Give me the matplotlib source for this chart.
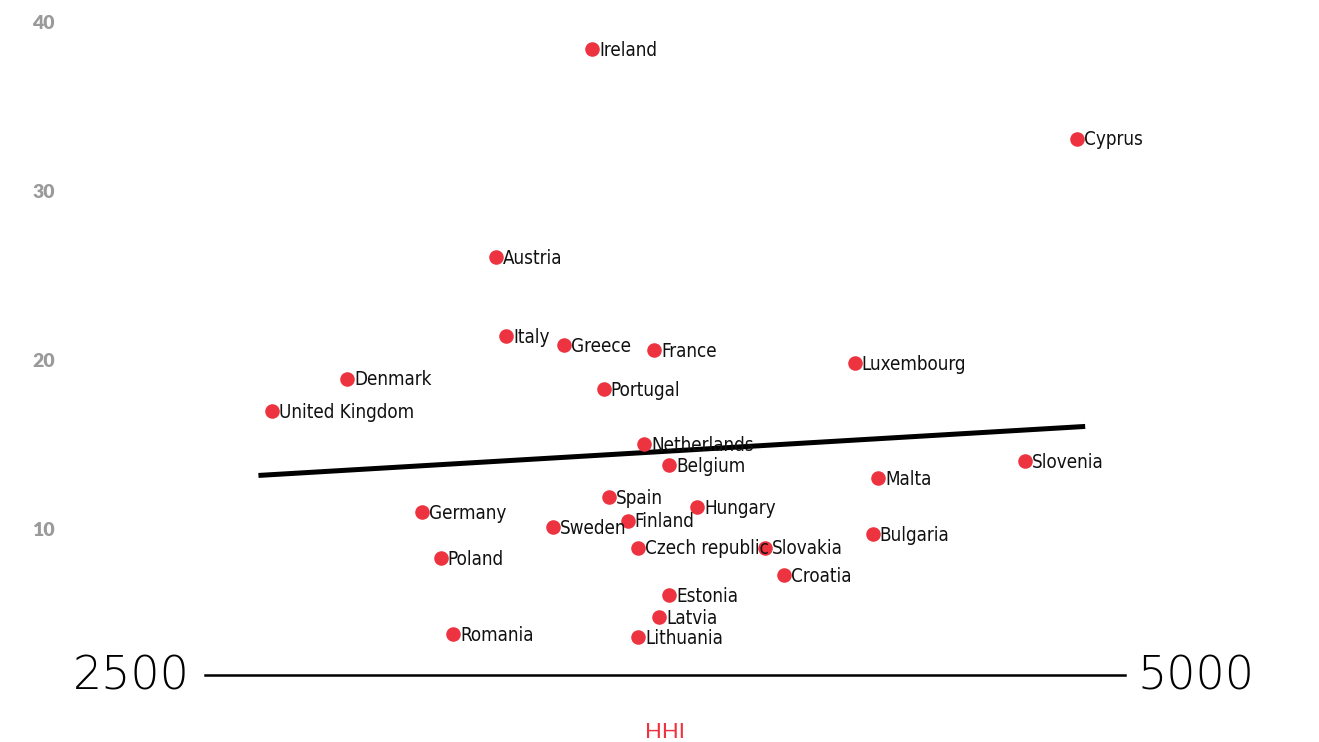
import numpy as np
import matplotlib
matplotlib.use("Agg")
import matplotlib.pyplot as plt

countries = ["United Kingdom", "Denmark", "Germany", "Poland", "Romania", "Austria",
             "Italy", "Sweden", "Greece", "Ireland", "Portugal", "Spain", "Finland",
             "Czech republic", "Lithuania", "Netherlands", "France", "Latvia", "Belgium",
             "Estonia", "Hungary", "Slovakia", "Croatia", "Luxembourg", "Bulgaria",
             "Malta", "Slovenia", "Cyprus"]
hhi = [2682, 2886, 3090, 3141, 3174, 3291,
       3318, 3446, 3476, 3552, 3584, 3598, 3649,
       3677, 3677, 3693, 3720, 3734, 3761,
       3761, 3837, 4022, 4073, 4266, 4315,
       4329, 4728, 4870]
values = [17.0, 18.9, 11.0, 8.3, 3.8, 26.1,
          21.4, 10.1, 20.9, 38.4, 18.3, 11.9, 10.5,
          8.9, 3.6, 15.0, 20.6, 4.8, 13.8,
          6.1, 11.3, 8.9, 7.3, 19.8, 9.7,
          13.0, 14.0, 33.1]
yticks = [10, 20, 30, 40]

fig = plt.figure(figsize=(13.19, 7.42), dpi=100)
ax = fig.add_axes([205 / 1319, 67 / 742, 920 / 1319, 675 / 742])
ax.set_xlim(2500, 5000)
ax.set_ylim(1.36, 41.3)

red = "#ee3340"
ax.scatter(hhi, values, s=110, color=red, zorder=3, linewidths=0)
for name, x, y in zip(countries, hhi, values):
    ax.annotate(name, (x, y), xytext=(5, -1), textcoords="offset points",
                ha="left", va="center", fontsize=13.5, family="DejaVu Sans",
                fontstretch="condensed", color="#111111", zorder=4)

# trend line
k, b = np.polyfit(hhi, values, 1)
xs = np.array([min(hhi) - 30, max(hhi) + 15])
ax.plot(xs, k * xs + b, color="black", lw=3.6, zorder=2)

for s in ["top", "right", "left"]:
    ax.spines[s].set_visible(False)
ax.spines["bottom"].set_linewidth(1.8)
ax.set_xticks([])
ax.set_yticks(yticks)
ax.tick_params(axis="y", length=0, pad=108, labelsize=14, labelcolor="#9a9a9a")
for t in ax.get_yticklabels():
    t.set_fontweight("heavy")
    t.set_family("Lato")

ax.annotate("2500", (0, 0), xycoords="axes fraction", xytext=(-11, -1),
            textcoords="offset points", ha="right", va="center",
            fontsize=33, family="DejaVu Sans", fontweight="light", color="black")
ax.annotate("5000", (1, 0), xycoords="axes fraction", xytext=(9, -1),
            textcoords="offset points", ha="left", va="center",
            fontsize=33, family="DejaVu Sans", fontweight="light", color="black")
ax.annotate("HHI", (0.5, 0), xycoords="axes fraction", xytext=(0, -41),
            textcoords="offset points", ha="center", va="center",
            fontsize=16, family="Lato", fontweight="normal", color=red)

fig.savefig("out.png", dpi=100)
